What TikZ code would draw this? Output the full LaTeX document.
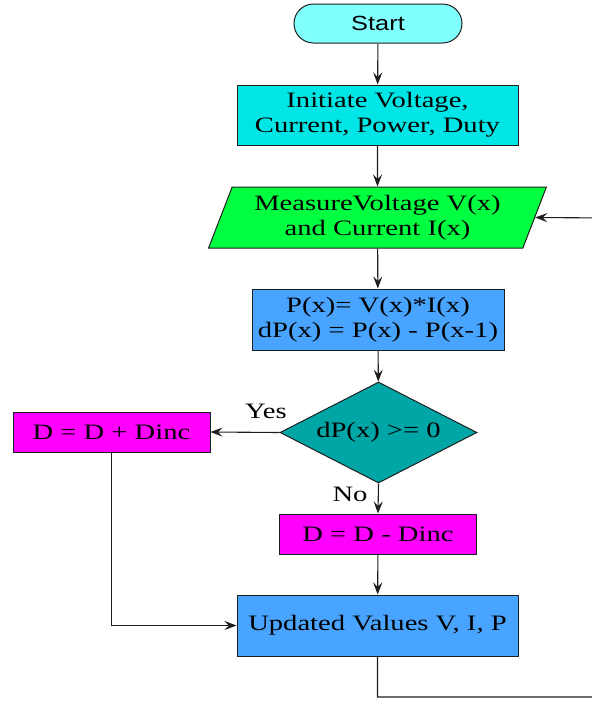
\documentclass[tikz,border=0pt]{standalone}
\usepackage{fontspec}
\setmainfont{Liberation Serif}[FakeStretch=1.3]
\newfontfamily\labelsans{Liberation Sans}[FakeStretch=1.24]
\usetikzlibrary{shapes.geometric,shapes.misc,arrows.meta}
\definecolor{startcol}{RGB}{128,255,255}
\definecolor{initcol}{RGB}{0,230,230}
\definecolor{meascol}{RGB}{0,255,64}
\definecolor{calccol}{RGB}{72,164,255}
\definecolor{decicol}{RGB}{0,166,166}
\definecolor{dutycol}{RGB}{255,0,255}
\definecolor{linecol}{RGB}{30,30,30}
\tikzset{
  box/.style={draw=linecol, line width=1pt, inner sep=0pt, align=center,
    font=\fontsize{22}{25}\selectfont},
  flow/.style={draw=linecol, line width=1.1pt,
    -{Stealth[length=12pt,width=9pt,inset=4.5pt]}},
  tag/.style={font=\fontsize{22}{25}\selectfont, inner sep=0pt}
}
\begin{document}
\begin{tikzpicture}[x=1pt,y=-1pt]
\useasboundingbox (0,0) rectangle (592,702);
\clip (0,0) rectangle (592,702);

% terminal
\node[box, rounded rectangle, fill=startcol, minimum width=168pt, minimum height=39pt,
      font=\labelsans\fontsize{20.5}{24}\selectfont] (start) at (378,23.5) {Start};

% process and I/O blocks
\node[box, fill=initcol, minimum width=281pt, minimum height=60pt] (init) at (377.5,115)
  {Initiate Voltage,\\Current, Power, Duty};
\node[box, trapezium, trapezium left angle=66, trapezium right angle=114,
      trapezium stretches=true, fill=meascol, minimum width=339pt, minimum height=61pt]
      (meas) at (377.5,217.5) {MeasureVoltage V(x)\\and Current I(x)};
\node[box, fill=calccol, minimum width=252pt, minimum height=61pt] (calc) at (378,319.5)
  {P(x)= V(x)*I(x)\\dP(x) = P(x) - P(x-1)};
\node[box, diamond, aspect=2, fill=decicol, minimum width=197pt, minimum height=101pt] (dec)
  at (378.5,432.5) {dP(x) >= 0};
\node[box, fill=dutycol, minimum width=197pt, minimum height=40pt] (inc) at (111.5,432)
  {D = D + Dinc};
\node[box, fill=dutycol, minimum width=197pt, minimum height=40pt] (decr) at (378,534)
  {D = D - Dinc};
\node[box, fill=calccol, minimum width=281pt, minimum height=61pt] (upd) at (377.5,625.5)
  {Updated Values V, I, P};

% branch labels
\node[tag] (yes) at (266,411) {Yes};
\node[tag] (no) at (350,494) {No};

% return path of the loop
\coordinate (rb) at (610,697);
\coordinate (rt) at (610,218);

% connectors
\draw[flow] (start) -- (init);
\draw[flow] (init) -- (meas);
\draw[flow] (meas) -- (calc);
\draw[flow] (calc) -- (dec);
\draw[flow] (dec.west) -- (inc.east);
\draw[flow] (dec.south) -- (decr.north);
\draw[flow] (decr) -- (upd);
\draw[flow] (inc.south) |- (upd.west);
\draw[flow] (upd.south) |- (rb) -- (rt) -- (meas.east);
\end{tikzpicture}
\end{document}
